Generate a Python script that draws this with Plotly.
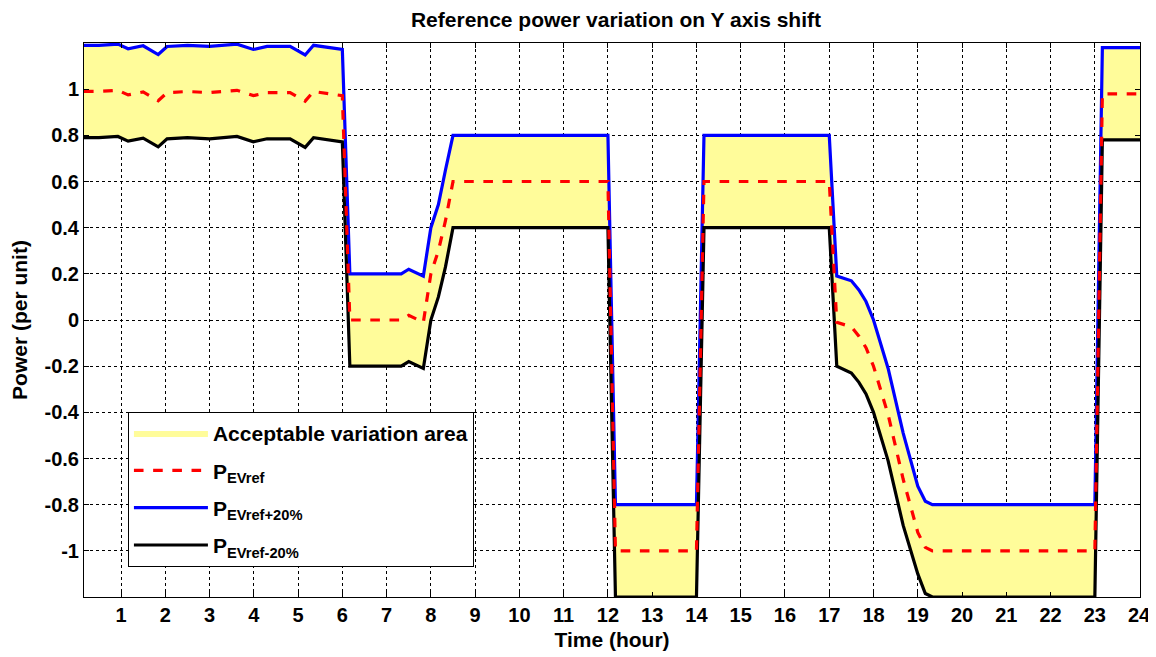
import plotly.graph_objects as go

# time (hour)
t = [0.164, 0.5, 0.93, 1.16, 1.5, 1.84, 2.04, 2.5, 3.0, 3.62, 3.99, 4.3, 4.82, 5.16, 5.35, 5.67, 6.0,
     6.17, 7.33, 7.5, 7.83, 8.0, 8.17, 8.33, 8.5, 12.0,
     12.17, 14.0, 14.17, 17.0,
     17.17, 17.5, 17.67, 17.83, 18.0, 18.33, 18.67, 19.0, 19.17, 19.33, 23.0,
     23.17, 24.1]

p_ref = [0.99, 0.99, 0.995, 0.975, 0.988, 0.95, 0.985, 0.99, 0.985, 0.995, 0.972, 0.985, 0.985, 0.948, 0.99, 0.98, 0.972,
         0.0, 0.0, 0.02, -0.01, 0.2, 0.3, 0.43, 0.6, 0.6,
         -1.0, -1.0, 0.6, 0.6,
         -0.01, -0.03, -0.07, -0.12, -0.2, -0.41, -0.69, -0.92, -0.985, -1.0, -1.0,
         0.98, 0.98]

p_up = [1.19, 1.19, 1.195, 1.175, 1.188, 1.15, 1.185, 1.19, 1.185, 1.195, 1.172, 1.185, 1.185, 1.148, 1.19, 1.18, 1.172,
        0.2, 0.2, 0.22, 0.19, 0.4, 0.5, 0.65, 0.8, 0.8,
        -0.8, -0.8, 0.8, 0.8,
        0.19, 0.17, 0.13, 0.08, 0.0, -0.21, -0.49, -0.72, -0.785, -0.8, -0.8,
        1.18, 1.18]

p_low = [0.79, 0.79, 0.795, 0.775, 0.788, 0.75, 0.785, 0.79, 0.785, 0.795, 0.772, 0.785, 0.785, 0.748, 0.79, 0.78, 0.772,
         -0.2, -0.2, -0.18, -0.21, 0.0, 0.1, 0.23, 0.4, 0.4,
         -1.2, -1.2, 0.4, 0.4,
         -0.2, -0.23, -0.27, -0.32, -0.4, -0.61, -0.89, -1.1, -1.185, -1.2, -1.2,
         0.78, 0.78]

x_ticks = list(range(1, 25))
y_ticks = [-1, -0.8, -0.6, -0.4, -0.2, 0, 0.2, 0.4, 0.6, 0.8, 1]
y_tick_text = ["-1", "-0.8", "-0.6", "-0.4", "-0.2", "0", "0.2", "0.4", "0.6", "0.8", "1"]

FONT = "Arial, Liberation Sans, sans-serif"

fig = go.Figure()
fig.add_trace(go.Scatter(x=t, y=p_low, mode="lines", line=dict(width=0, color="rgba(0,0,0,0)"),
                         showlegend=False, hoverinfo="skip", legendgroup="a"))
fig.add_trace(go.Scatter(x=t, y=p_up, mode="lines", line=dict(width=0, color="rgba(0,0,0,0)"),
                         fill="tonexty", fillcolor="#FFFC9A", legendgroup="a",
                         name="<b>Acceptable variation area</b>", legendrank=1))
fig.add_trace(go.Scatter(x=t, y=p_up, mode="lines", line=dict(width=3.2, color="#0000FF"),
                         name="<b>P<sub>EVref+20%</sub></b>", legendrank=3, legendgroup="c"))
fig.add_trace(go.Scatter(x=t, y=p_low, mode="lines", line=dict(width=3.2, color="#000000"),
                         name="<b>P<sub>EVref-20%</sub></b>", legendrank=4, legendgroup="d"))
fig.add_trace(go.Scatter(x=t, y=p_ref, mode="lines", line=dict(width=3.2, color="#FF0000", dash="dash"),
                         name="<b>P<sub>EVref</sub></b>", legendrank=2, legendgroup="b"))

axis_common = dict(
    showline=True, linecolor="black", linewidth=1, mirror="ticks",
    ticks="inside", ticklen=5, tickcolor="black",
    showgrid=True, gridcolor="black", gridwidth=1, griddash="dot",
    zeroline=False, automargin=False,
    tickfont=dict(family=FONT, size=20, color="black", weight="bold"),
)

fig.update_xaxes(range=[0.164, 24.02], tickmode="array", tickvals=x_ticks,
                 title=dict(text="<b>Time (hour)</b>", font=dict(family=FONT, size=21, color="black"), standoff=7),
                 **axis_common)
fig.update_yaxes(range=[-1.2, 1.2], tickmode="array", tickvals=y_ticks, ticktext=y_tick_text,
                 title=dict(text="<b>Power (per unit)</b>", font=dict(family=FONT, size=21, color="black"), standoff=15),
                 **axis_common)

# page body has an 8px margin: figure is sized/offset to land the plot area at 84..1140 x 43..597
fig.update_layout(
    width=1148, height=649,
    margin=dict(l=76, r=16, t=35, b=60),
    paper_bgcolor="white", plot_bgcolor="white",
    title=dict(text="<b>Reference power variation on Y axis shift</b>", x=0.5296, xanchor="center",
               y=0.9815, yanchor="middle", font=dict(family=FONT, size=21, color="black")),
    legend=dict(x=0.0416, y=0.334, xanchor="left", yanchor="top",
                bgcolor="white", bordercolor="black", borderwidth=1,
                font=dict(family=FONT, size=21, color="black"),
                traceorder="grouped", itemwidth=74, tracegroupgap=7),
    showlegend=True,
)

fig.write_html("out.html")
